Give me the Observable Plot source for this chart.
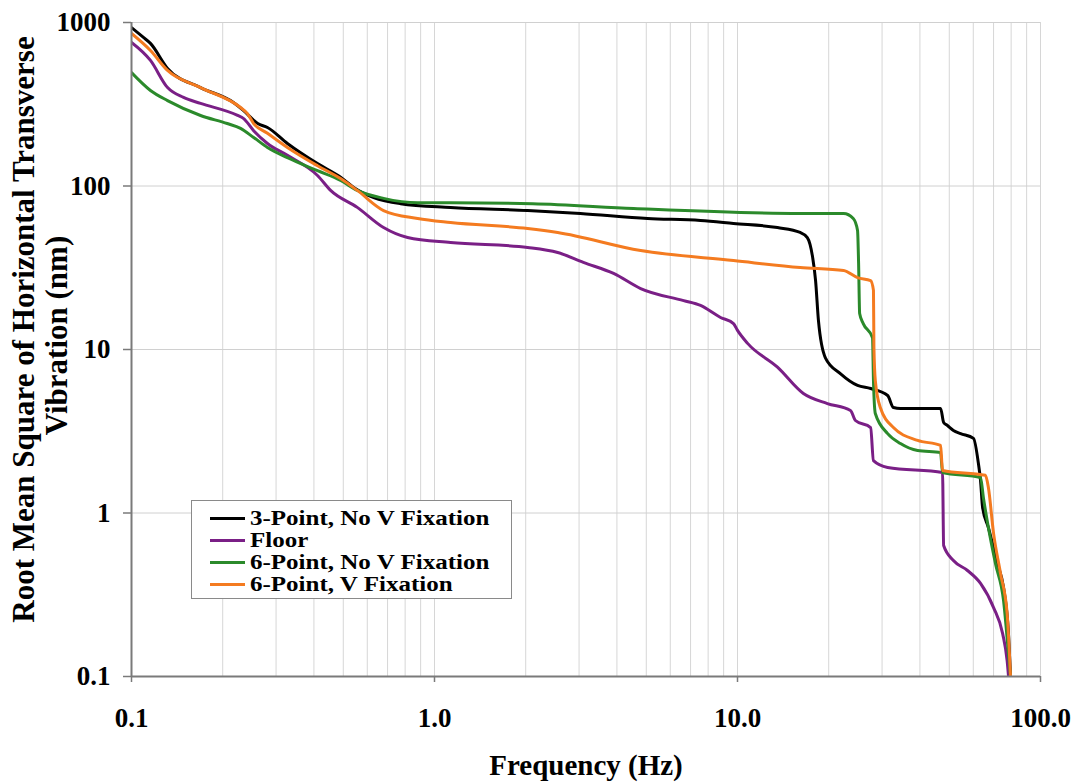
<!DOCTYPE html>
<html>
<head>
<meta charset="utf-8">
<script src="https://cdn.jsdelivr.net/npm/d3@7"></script>
<script src="https://cdn.jsdelivr.net/npm/@observablehq/plot@0.6"></script>
<style>
  html, body { margin: 0; padding: 0; background: white; overflow: hidden; }
  #wrap { position: relative; width: 1078px; height: 782px; }
  #legend {
    position: absolute; left: 191px; top: 500px; width: 321px; height: 99px;
    border: 1px solid #8a8a8a; background: white; box-sizing: border-box;
    padding-top: 6px;
    font-family: "Liberation Serif", "Times New Roman", serif; font-weight: bold; font-size: 20.5px;
  }
  .row { height: 22px; line-height: 22px; white-space: nowrap; display: flex; align-items: center; }
  .swatch { display: inline-block; width: 35px; height: 3px; margin-left: 18px; margin-right: 5px; flex: none; }
  .lab { display: inline-block; transform: scaleX(1.22); transform-origin: left center; }
</style>
</head>
<body>
<div id="wrap"></div>
<script>
// ---- data ----
const seriesNames = ["3-Point, No V Fixation", "Floor", "6-Point, No V Fixation", "6-Point, V Fixation"];
const seriesColors = ["#000000", "#7a1f86", "#2b8a2b", "#f47b20"];

const freq3pt = [0.100, 0.1095, 0.1155, 0.1315, 0.169, 0.217, 0.234, 0.261, 0.281, 0.327, 0.411, 0.490, 0.541, 0.630, 0.773, 1.13, 2.03, 3.03, 5.05, 7.55, 9.70, 13.55, 16.1, 17.0, 17.7, 18.1, 18.5, 19.5, 21.9, 24.9, 27.5, 31.3, 32.7, 34.5, 46.8, 47.9, 49.3, 51.6, 54.5, 60.1, 62.4, 63.4, 64.4, 67.3, 72.1, 75.5, 78.4, 79.6];
const rms3pt  = [931, 810, 745, 524, 400, 324, 290, 241, 228, 182, 137, 113, 98, 85, 78, 74, 70.8, 67.9, 63.3, 61.5, 59.0, 55.7, 52.0, 48.4, 36.6, 26.4, 15.0, 8.9, 7.1, 6.03, 5.77, 5.23, 4.42, 4.36, 4.36, 3.58, 3.43, 3.20, 3.06, 2.86, 2.0, 1.58, 1.08, 0.815, 0.491, 0.350, 0.183, 0.101];

const freqFloor = [0.100, 0.1155, 0.1315, 0.1485, 0.169, 0.224, 0.234, 0.253, 0.281, 0.327, 0.411, 0.454, 0.556, 0.679, 0.815, 1.13, 2.03, 2.55, 3.10, 3.90, 4.79, 6.64, 7.55, 8.79, 9.70, 10.0, 10.8, 13.55, 16.5, 19.8, 23.6, 24.5, 27.5, 28.1, 31.3, 47.5, 47.9, 51.6, 57.4, 63.4, 70.0, 75.0, 77.6, 78.4];
const rmsFloor  = [755, 586, 400, 348, 320, 270, 259, 218, 182, 154, 116, 94, 74, 55.7, 48.4, 45.1, 42.1, 39.2, 34.1, 29.2, 23.6, 19.9, 18.6, 15.7, 14.4, 13.1, 10.9, 7.8, 5.38, 4.67, 4.24, 3.68, 3.33, 2.09, 1.90, 1.77, 0.632, 0.512, 0.445, 0.371, 0.264, 0.183, 0.125, 0.101];

const freq6ptNoV = [0.100, 0.1155, 0.1315, 0.169, 0.207, 0.229, 0.253, 0.281, 0.327, 0.411, 0.490, 0.556, 0.679, 0.88, 1.13, 2.11, 4.54, 16.1, 22.4, 24.1, 24.9, 25.1, 25.3, 26.0, 27.9, 28.1, 28.5, 31.3, 34.5, 39.3, 46.8, 47.5, 63.4, 64.8, 67.3, 71.0, 75.5, 78.4, 79.6];
const rms6ptNoV  = [494, 384, 333, 270, 241, 225, 198, 172, 149, 124, 108, 94, 84, 79, 79, 78, 72.8, 67.9, 67.9, 63.3, 53.5, 33.6, 16.6, 14.4, 11.8, 6.46, 4.06, 3.06, 2.66, 2.41, 2.34, 1.77, 1.65, 1.24, 0.815, 0.491, 0.292, 0.138, 0.101];

const freq6ptV = [0.100, 0.1155, 0.1315, 0.169, 0.229, 0.241, 0.253, 0.281, 0.327, 0.411, 0.490, 0.556, 0.679, 0.88, 1.13, 2.03, 2.55, 4.79, 9.70, 16.1, 22.4, 24.9, 27.5, 28.1, 28.2, 28.5, 29.6, 32.7, 39.3, 46.8, 47.5, 65.8, 67.3, 70.0, 73.8, 77.6, 79.6];
const rms6ptV  = [857, 674, 509, 400, 302, 278, 241, 210, 172, 133, 111, 94, 70.8, 63.3, 59.8, 55.0, 52.0, 40.3, 35.0, 31.7, 30.4, 27.5, 26.4, 23.0, 10.3, 6.46, 4.42, 3.33, 2.78, 2.59, 1.82, 1.70, 1.43, 0.750, 0.427, 0.243, 0.101];

const xGridValues = [0.2,0.3,0.4,0.5,0.6,0.7,0.8,0.9,1,2,3,4,5,6,7,8,9,10,20,30,40,50,60,70,80,90,100];
const xTicks = [0.1, 1, 10, 100];
const xTickLabels = ["0.1", "1.0", "10.0", "100.0"];
const yTicks = [0.1, 1, 10, 100, 1000];
const yTickLabels = ["0.1", "1", "10", "100", "1000"];
const xTitle = "Frequency (Hz)";
const yTitle1 = "Root Mean Square of Horizontal Transverse";
const yTitle2 = "Vibration (nm)";

// ---- build table ----
const pairs = [[freq3pt, rms3pt], [freqFloor, rmsFloor], [freq6ptNoV, rms6ptNoV], [freq6ptV, rms6ptV]];
const table = [];
pairs.forEach(([fs, vs], k) => fs.forEach((f, i) => table.push({series: seriesNames[k], f, v: vs[i]})));

const font = "'Liberation Serif', 'Times New Roman', serif";
const labelOf = (ticks, labels) => d => {
  const i = ticks.findIndex(t => Math.abs(t - d) < 1e-9 * Math.max(1, t));
  return i >= 0 ? labels[i] : "";
};

const chart = Plot.plot({
  width: 1078,
  height: 782,
  marginLeft: 131,
  marginRight: 38,
  marginTop: 22,
  marginBottom: 106,
  x: {type: "log", domain: [0.1, 100]},
  y: {type: "log", domain: [0.1, 1000]},
  color: {domain: seriesNames, range: seriesColors},
  style: {fontFamily: font, fontWeight: "bold", background: "white", color: "black", overflow: "visible"},
  marks: [
    Plot.ruleX(xGridValues, {stroke: "#d6d6d6", strokeWidth: 1}),
    Plot.ruleY(yTicks.slice(1), {stroke: "#d0d0d0", strokeWidth: 1}),
    Plot.line(table, {x: "f", y: "v", z: "series", stroke: "series", strokeWidth: 3, curve: "monotone-x", strokeLinejoin: "round", clip: true}),
    Plot.ruleX([xTicks[0]], {stroke: "#7a7a7a", strokeWidth: 2}),
    Plot.ruleY([yTicks[0]], {stroke: "#7a7a7a", strokeWidth: 2}),
    Plot.axisY({ticks: yTicks, tickFormat: labelOf(yTicks, yTickLabels), tickSize: 8, tickPadding: 13, fontSize: 27, color: "black", label: null}),
    Plot.axisX({ticks: xTicks, tickFormat: labelOf(xTicks, xTickLabels), tickSize: 6, tickPadding: 25, fontSize: 27, color: "black", label: null}),
    Plot.text([xTitle], {frameAnchor: "bottom", lineAnchor: "middle", textAnchor: "middle", dy: 89, fontSize: 29, fontWeight: "bold", fill: "black"}),
    Plot.text([yTitle1], {frameAnchor: "left", lineAnchor: "middle", textAnchor: "middle", rotate: -90, dx: -107, dy: -20, fontSize: 31, fontWeight: "bold", fill: "black"}),
    Plot.text([yTitle2], {frameAnchor: "left", lineAnchor: "middle", textAnchor: "middle", rotate: -90, dx: -74, dy: -14, fontSize: 31, fontWeight: "bold", fill: "black"})
  ]
});

const wrap = document.getElementById("wrap");
wrap.appendChild(chart);

// tick marks in grey, labels black
chart.querySelectorAll('g[aria-label="y-axis tick"], g[aria-label="x-axis tick"]').forEach(g => {
  g.setAttribute("stroke", "#7a7a7a");
  g.setAttribute("stroke-width", "1.5");
});

// legend overlay
const legend = document.createElement("div");
legend.id = "legend";
seriesNames.forEach((name, i) => {
  const row = document.createElement("div");
  row.className = "row";
  const sw = document.createElement("span");
  sw.className = "swatch";
  sw.style.background = seriesColors[i];
  const lab = document.createElement("span");
  lab.className = "lab";
  lab.textContent = name;
  row.appendChild(sw);
  row.appendChild(lab);
  legend.appendChild(row);
});
wrap.appendChild(legend);
</script>
</body>
</html>
